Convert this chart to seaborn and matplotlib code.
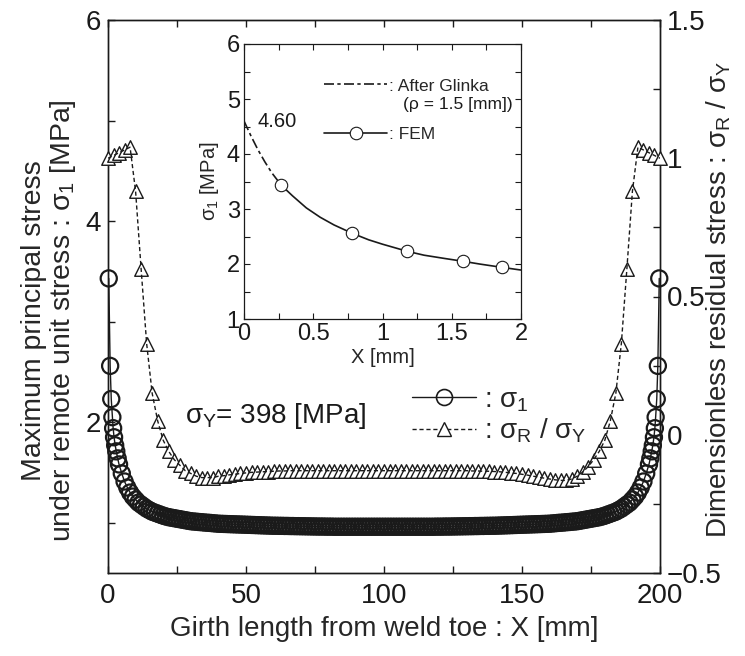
import numpy as np
import matplotlib
matplotlib.use("Agg")
import matplotlib.pyplot as plt
from matplotlib.lines import Line2D
import seaborn as sns

# ---------------- data ----------------
# main plot: maximum principal stress sigma_1 (left axis), FEM nodes
toe_x_left = [0.27, 0.78, 1.18, 1.58, 1.86, 2.2, 2.6, 3.0, 3.5, 4.0]
toe_s1_left = [3.43, 2.56, 2.23, 2.05, 1.94, 1.85, 1.77, 1.71, 1.64, 1.58]
mesh_x = np.arange(5, 196)  # 1 mm FEM node spacing
mesh_s1 = [
    1.49, 1.41, 1.35, 1.30, 1.26, 1.23, 1.20, 1.18, 1.16, 1.14, 1.125, 1.11, 1.10, 1.09, 1.08, 1.07,
    1.062, 1.055, 1.05, 1.045, 1.04, 1.035, 1.03, 1.025, 1.02, 1.015,
    1.012, 1.01, 1.007, 1.005, 1.002, 1.0, 0.998, 0.995, 0.993, 0.99,
    0.989, 0.988, 0.987, 0.986, 0.985, 0.984, 0.983, 0.982, 0.981, 0.98,
    0.979, 0.978, 0.977, 0.976, 0.975, 0.974, 0.973, 0.972, 0.971, 0.97,
    0.97, 0.969, 0.969, 0.968, 0.968, 0.967, 0.967, 0.966, 0.966, 0.965,
    0.965, 0.964, 0.964, 0.963, 0.963, 0.962, 0.962, 0.962, 0.961, 0.961,
    0.961, 0.96, 0.96, 0.96, 0.96, 0.96, 0.96, 0.96, 0.96, 0.96,
    0.96, 0.96, 0.96, 0.96, 0.96, 0.96, 0.96, 0.96, 0.96, 0.96,
    0.96, 0.96, 0.96, 0.96, 0.96, 0.96, 0.96, 0.96, 0.96, 0.96,
    0.96, 0.96, 0.96, 0.96, 0.96, 0.96, 0.96, 0.96, 0.961, 0.961,
    0.961, 0.962, 0.962, 0.962, 0.963, 0.963, 0.964, 0.964, 0.965, 0.965,
    0.966, 0.966, 0.967, 0.967, 0.968, 0.968, 0.969, 0.969, 0.97, 0.97,
    0.971, 0.972, 0.973, 0.974, 0.975, 0.976, 0.977, 0.978, 0.979, 0.98,
    0.981, 0.982, 0.983, 0.984, 0.985, 0.986, 0.987, 0.988, 0.989, 0.99,
    0.993, 0.995, 0.998, 1.0, 1.002, 1.005, 1.007, 1.01, 1.012, 1.015,
    1.02, 1.025, 1.03, 1.035, 1.04, 1.045, 1.05, 1.055, 1.062, 1.07,
    1.08, 1.09, 1.10, 1.11, 1.125, 1.14, 1.16, 1.18, 1.20, 1.23, 1.26, 1.30, 1.35, 1.41, 1.49,
]
toe_x_right = [196.0, 196.5, 197.0, 197.4, 197.8, 198.14, 198.42, 198.82, 199.22, 199.73]
toe_s1_right = [1.58, 1.64, 1.71, 1.77, 1.85, 1.94, 2.05, 2.23, 2.56, 3.43]

# main plot: dimensionless residual stress sigma_R / sigma_Y (right axis)
resid_x = np.arange(0, 201, 2)
resid_y = [
    1.00, 1.01, 1.02, 1.03, 1.04, 0.88, 0.60, 0.33, 0.15, 0.05,
    -0.02, -0.06, -0.09, -0.11, -0.13, -0.14, -0.15, -0.155, -0.155, -0.155,
    -0.15, -0.148, -0.145, -0.143, -0.14, -0.138, -0.136, -0.135, -0.134, -0.133,
    -0.132, -0.131, -0.131, -0.13, -0.13, -0.13, -0.13, -0.13, -0.13, -0.13,
    -0.13, -0.13, -0.13, -0.13, -0.13, -0.13, -0.13, -0.13, -0.13, -0.13,
    -0.13, -0.13, -0.13, -0.13, -0.13, -0.13, -0.13, -0.13, -0.13, -0.13,
    -0.13, -0.13, -0.13, -0.13, -0.13, -0.13, -0.131, -0.131, -0.132, -0.132,
    -0.133, -0.134, -0.136, -0.138, -0.14, -0.143, -0.146, -0.15, -0.153, -0.157,
    -0.16, -0.163, -0.165, -0.165, -0.16, -0.15, -0.135, -0.115, -0.09, -0.06,
    -0.02, 0.05, 0.15, 0.33, 0.60, 0.88, 1.04, 1.03, 1.02, 1.01,
    1.00,
]

# inset
glinka_x = [0.0, 0.05, 0.10, 0.15, 0.20, 0.27]
glinka_y = [4.60, 4.33, 4.08, 3.86, 3.66, 3.43]
fem_curve_x = [0.27, 0.35, 0.45, 0.55, 0.65, 0.78, 0.90, 1.00, 1.18, 1.30, 1.45, 1.58, 1.70, 1.86, 2.00]
fem_curve_y = [3.43, 3.24, 3.02, 2.85, 2.71, 2.56, 2.44, 2.36, 2.23, 2.16, 2.10, 2.05, 2.00, 1.94, 1.89]
fem_node_x = [0.27, 0.78, 1.18, 1.58, 1.86]
fem_node_y = [3.43, 2.56, 2.23, 2.05, 1.94]

# ticks / labels
x_ticks = [0, 25, 50, 75, 100, 125, 150, 175, 200]
x_ticklabels = ["0", "", "50", "", "100", "", "150", "", "200"]
left_ticks = [1, 2, 3, 4, 5, 6]
left_ticklabels = ["", "2", "", "4", "", "6"]
right_ticks = [-0.5, -0.25, 0, 0.25, 0.5, 0.75, 1.0, 1.25, 1.5]
right_ticklabels = ["\u22120.5", "", "0", "", "0.5", "", "1", "", "1.5"]
in_x_ticks = [0, 0.25, 0.5, 0.75, 1.0, 1.25, 1.5, 1.75, 2.0]
in_x_ticklabels = ["0", "", "0.5", "", "1", "", "1.5", "", "2"]
in_y_ticks = [1, 1.5, 2, 2.5, 3, 3.5, 4, 4.5, 5, 5.5, 6]
in_y_ticklabels = ["1", "", "2", "", "3", "", "4", "", "5", "", "6"]

# ---------------- style ----------------
sns.set_theme(style="ticks")
plt.rcParams["font.family"] = ["Liberation Sans", "DejaVu Sans"]
plt.rcParams["mathtext.fontset"] = "custom"
plt.rcParams["mathtext.rm"] = "Liberation Sans"
plt.rcParams["mathtext.it"] = "Liberation Sans"
plt.rcParams["mathtext.bf"] = "Liberation Sans:bold"
plt.rcParams["axes.linewidth"] = 1.0

fig = plt.figure(figsize=(7.45, 6.56), dpi=100)
ax = fig.add_axes([108 / 745, 1 - 573 / 656, 552 / 745, 553 / 656])
ax2 = ax.twinx()

s1_x = list(toe_x_left) + list(mesh_x) + list(toe_x_right)
s1_y = list(toe_s1_left) + list(mesh_s1) + list(toe_s1_right)

sns.lineplot(x=s1_x, y=s1_y, ax=ax, sort=False, estimator=None, color="k", lw=1.0)
sns.scatterplot(x=s1_x, y=s1_y, ax=ax, marker="o", s=135, color="k", linewidth=1.6,
                zorder=3)
circ = ax.collections[-1]
circ.set_facecolor("none")
circ.set_edgecolor("k")
circ.set_clip_on(False)

sns.scatterplot(x=resid_x, y=resid_y, ax=ax2, marker="^", s=95, color="k", linewidth=1.0,
                zorder=3)
tri = ax2.collections[-1]
tri.set_facecolor("white")
tri.set_edgecolor("k")
tri.set_clip_on(False)
sns.lineplot(x=resid_x, y=resid_y, ax=ax2, sort=False, estimator=None, color="k", lw=1.0,
             linestyle=(0, (3, 2)), zorder=4)

ax.set_xlim(0, 200)
ax.set_ylim(0.5, 6)
ax2.set_ylim(-0.5, 1.5)

ax.set_xticks(x_ticks)
ax.set_xticklabels(x_ticklabels)
ax.set_yticks(left_ticks)
ax.set_yticklabels(left_ticklabels)
ax2.set_yticks(right_ticks)
ax2.set_yticklabels(right_ticklabels)

ax.tick_params(axis="x", direction="in", length=5, width=1, labelsize=20, pad=7,
               top=True, colors="k")
ax.tick_params(axis="y", direction="in", length=5, width=1, labelsize=20, pad=5,
               right=False, colors="k")
ax2.tick_params(axis="y", direction="in", length=5, width=1, labelsize=20, pad=5,
                right=True, colors="k")
for sp in ax.spines.values():
    sp.set_color("k")
for sp in ax2.spines.values():
    sp.set_color("k")

ax.set_xlabel("Girth length from weld toe : X [mm]", fontsize=20, labelpad=5)
ax.set_ylabel("Maximum principal stress\nunder remote unit stress : $\\sigma_1$ [MPa]",
              fontsize=20.5, linespacing=1.05)
ax.yaxis.set_label_coords(-0.055, 0.457)
ax2.set_ylabel("Dimensionless residual stress : $\\sigma_R$ / $\\sigma_Y$", fontsize=20)
ax2.yaxis.set_label_coords(1.08, 0.494)

ax.text(28, 2.06, "$\\sigma_Y$= 398 [MPa]", fontsize=20, va="center", ha="left", color="k")

h1 = Line2D([], [], color="k", lw=1.0, marker="o", markersize=11.5,
            markerfacecolor="none", markeredgecolor="k", markeredgewidth=1.2)
h2 = Line2D([], [], color="k", lw=1.0, linestyle=(0, (3, 2)), marker="^", markersize=9.5,
            markerfacecolor="white", markeredgecolor="k", markeredgewidth=1.0)
ax2.legend([h1, h2], [": $\\sigma_1$", ": $\\sigma_R$ / $\\sigma_Y$"], loc="upper left",
           bbox_to_anchor=(0.551, 0.336), frameon=False, fontsize=20, handlelength=2.3,
           handletextpad=0.3, labelspacing=0.1, borderpad=0, borderaxespad=0)

# ---------------- inset ----------------
ax_in = fig.add_axes([244 / 745, 1 - 319 / 656, 277 / 745, 275 / 656])
ax_in.set_facecolor("white")
sns.lineplot(x=glinka_x, y=glinka_y, ax=ax_in, sort=False, estimator=None, color="k", lw=1.2,
             linestyle=(0, (6, 2, 2, 2)))
sns.lineplot(x=fem_curve_x, y=fem_curve_y, ax=ax_in, sort=False, estimator=None, color="k",
             lw=1.2)
sns.scatterplot(x=fem_node_x, y=fem_node_y, ax=ax_in, marker="o", s=80, color="k",
                linewidth=0.8, zorder=3)
fem_pts = ax_in.collections[-1]
fem_pts.set_facecolor("white")
fem_pts.set_edgecolor("k")
ax_in.set_xlim(0, 2)
ax_in.set_ylim(1, 6)
ax_in.set_xticks(in_x_ticks)
ax_in.set_xticklabels(in_x_ticklabels)
ax_in.set_yticks(in_y_ticks)
ax_in.set_yticklabels(in_y_ticklabels)
ax_in.tick_params(axis="both", direction="in", length=4, width=0.8, labelsize=17, pad=3,
                  top=True, right=True, colors="k")
for sp in ax_in.spines.values():
    sp.set_color("k")
    sp.set_linewidth(0.9)
ax_in.set_xlabel("X [mm]", fontsize=14.5, labelpad=2)
ax_in.set_ylabel("$\\sigma_1$ [MPa]", fontsize=14.5, labelpad=4)
ax_in.text(0.1, 4.49, "4.60", fontsize=14.5, ha="left", va="baseline", color="k")

g1 = Line2D([], [], color="k", lw=1.2, linestyle=(0, (6, 2, 2, 2)))
g2 = Line2D([], [], color="k", lw=1.2, marker="o", markersize=9, markerfacecolor="white",
            markeredgecolor="k", markeredgewidth=0.8)
ax_in.legend([g1, g2], [": After Glinka", ": FEM"], loc="upper left",
             bbox_to_anchor=(0.29, 0.875), frameon=False, fontsize=12.5, handlelength=3.6,
             handletextpad=0.1, labelspacing=1.9, borderpad=0, borderaxespad=0)
ax_in.text(0.574, 0.779, "(\u03c1 = 1.5 [mm])", transform=ax_in.transAxes, fontsize=12.5,
           ha="left", va="center", color="k")

fig.savefig("out.png", dpi=100)
